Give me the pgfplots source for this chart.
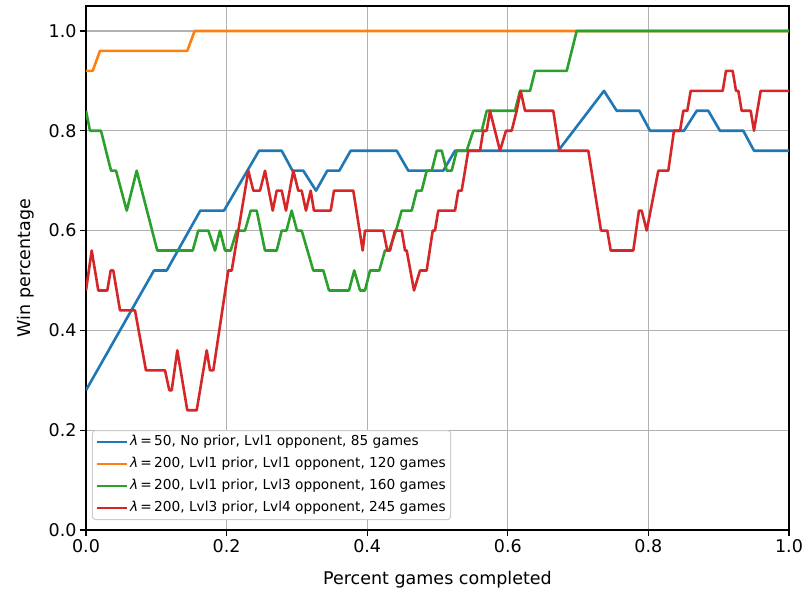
\documentclass[border=0pt]{standalone}
\usepackage{fontspec}
\setmainfont{DejaVu Sans}
\usepackage{pgfplots}
\pgfplotsset{compat=1.18}
\definecolor{tabblue}{HTML}{1F77B4}
\definecolor{taborange}{HTML}{FF7F0E}
\definecolor{tabgreen}{HTML}{2CA02C}
\definecolor{tabred}{HTML}{D62728}
\begin{document}
\begin{tikzpicture}
\path[use as bounding box] (-86pt,-65pt) rectangle (722pt,530pt);
\begin{axis}[
  at={(0,0)}, anchor=south west,
  width=703pt, height=524pt, scale only axis,
  xmin=0, xmax=1, ymin=0, ymax=1.05,
  xtick={0,0.2,0.4,0.6,0.8,1}, ytick={0,0.2,0.4,0.6,0.8,1},
  grid=major, major grid style={color=black!30, line width=1.3pt},
  axis line style={line width=1.3pt},
  tick style={black, line width=1.3pt}, major tick length=6pt, tick align=outside,
  xtick pos=lower, ytick pos=left,
  ticklabel style={font=\fontsize{17.5}{20}\selectfont},
  xticklabel style={/pgf/number format/fixed, /pgf/number format/fixed zerofill, /pgf/number format/precision=1, /pgf/number format/assume math mode=true},
  yticklabel style={/pgf/number format/fixed, /pgf/number format/fixed zerofill, /pgf/number format/precision=1, /pgf/number format/assume math mode=true},
  xlabel={Percent games completed}, ylabel={Win percentage},
  label style={font=\fontsize{17.5}{20}\selectfont},
  xlabel style={at={(axis description cs:0.5,0)}, anchor=base, yshift=-54pt},
  ylabel style={at={(axis description cs:0,0.5)}, anchor=base, yshift=55pt},
  legend style={at={(rel axis cs:0.0085,0.019)}, anchor=south west,
    font=\fontsize{13.7}{16}\selectfont, draw=black!20, line width=1pt,
    rounded corners=3pt, fill=white, inner xsep=3pt, inner ysep=3pt,
    row sep=5pt, cells={anchor=west},
    nodes={inner sep=2pt, text height=10pt, text depth=3pt}},
  legend image code/.code={\draw[#1, line width=2.6pt] (0pt,0pt) -- (30pt,0pt);},
  every axis plot/.append style={line width=2.6pt, line join=round},
]
\addplot[tabblue] coordinates {
(0,0.28) (0.0967,0.52) (0.1148,0.52) (0.1626,0.64) (0.1963,0.64) (0.2461,0.76)
(0.2784,0.76) (0.2937,0.72) (0.3091,0.72) (0.3272,0.68) (0.3432,0.72) (0.3603,0.72)
(0.3765,0.76) (0.4420,0.76) (0.4585,0.72) (0.5082,0.72) (0.5249,0.76) (0.6718,0.76)
(0.7368,0.88) (0.7549,0.84) (0.7871,0.84) (0.8023,0.80) (0.8506,0.80) (0.8687,0.84)
(0.8852,0.84) (0.9018,0.80) (0.9350,0.80) (0.9502,0.76) (1,0.76)};
\addlegendentry{\textit{λ}\,=\,50, No prior, Lvl1 opponent, 85 games}
\addplot[taborange] coordinates {
(0,0.92) (0.0095,0.92) (0.0199,0.96) (0.1441,0.96) (0.1545,1.0) (1,1.0)};
\addlegendentry{\textit{λ}\,=\,200, Lvl1 prior, Lvl1 opponent, 120 games}
\addplot[tabgreen] coordinates {
(0,0.84) (0.0057,0.80) (0.0213,0.80) (0.0356,0.72) (0.0427,0.72) (0.0579,0.64)
(0.0721,0.72) (0.1014,0.56) (0.1518,0.56) (0.1597,0.60) (0.1740,0.60) (0.1835,0.56)
(0.1906,0.60) (0.1977,0.56) (0.2058,0.56) (0.2144,0.60) (0.2262,0.60) (0.2343,0.64)
(0.2428,0.64) (0.2546,0.56) (0.2713,0.56) (0.2784,0.60) (0.2852,0.60) (0.2926,0.64)
(0.3001,0.60) (0.3068,0.60) (0.3233,0.52) (0.3376,0.52) (0.3457,0.48) (0.3741,0.48)
(0.3816,0.52) (0.3898,0.48) (0.3969,0.48) (0.4040,0.52) (0.4172,0.52) (0.4253,0.56)
(0.4310,0.56) (0.4410,0.60) (0.4491,0.64) (0.4633,0.64) (0.4704,0.68) (0.4775,0.68)
(0.4846,0.72) (0.4918,0.72) (0.4989,0.76) (0.5060,0.76) (0.5131,0.72) (0.5202,0.72)
(0.5273,0.76) (0.5415,0.76) (0.5509,0.80) (0.5629,0.80) (0.5700,0.84) (0.6102,0.84)
(0.6174,0.88) (0.6316,0.88) (0.6387,0.92) (0.6838,0.92) (0.6980,1.0) (1,1.0)};
\addlegendentry{\textit{λ}\,=\,200, Lvl1 prior, Lvl3 opponent, 160 games}
\addplot[tabred] coordinates {
(0,0.48) (0.0081,0.56) (0.0175,0.48) (0.0303,0.48) (0.0351,0.52) (0.0388,0.52)
(0.0484,0.44) (0.0697,0.44) (0.0853,0.32) (0.1124,0.32) (0.1185,0.28) (0.1219,0.28)
(0.1299,0.36) (0.1441,0.24) (0.1575,0.24) (0.1717,0.36) (0.1764,0.32) (0.1811,0.32)
(0.2024,0.52) (0.2073,0.52) (0.2309,0.72) (0.2380,0.68) (0.2475,0.68) (0.2546,0.72)
(0.2656,0.64) (0.2713,0.68) (0.2784,0.68) (0.2845,0.64) (0.2949,0.72) (0.3020,0.68)
(0.3068,0.68) (0.3129,0.64) (0.3196,0.68) (0.3243,0.64) (0.3481,0.64) (0.3528,0.68)
(0.3802,0.68) (0.3936,0.56) (0.3969,0.60) (0.4229,0.60) (0.4286,0.56) (0.4324,0.56)
(0.4395,0.60) (0.4491,0.60) (0.4538,0.56) (0.4562,0.56) (0.4666,0.48) (0.4751,0.52)
(0.4846,0.52) (0.4932,0.60) (0.4964,0.60) (0.5011,0.64) (0.5249,0.64) (0.5296,0.68)
(0.5344,0.68) (0.5438,0.76) (0.5605,0.76) (0.5651,0.80) (0.5700,0.80) (0.5747,0.84)
(0.5889,0.76) (0.5974,0.80) (0.6055,0.80) (0.6126,0.84) (0.6183,0.88) (0.6245,0.84)
(0.6647,0.84) (0.6733,0.76) (0.7145,0.76) (0.7326,0.60) (0.7415,0.60) (0.7464,0.56)
(0.7785,0.56) (0.7866,0.64) (0.7904,0.64) (0.7976,0.60) (0.8141,0.72) (0.8283,0.72)
(0.8364,0.80) (0.8450,0.80) (0.8497,0.84) (0.8553,0.84) (0.8602,0.88) (0.9057,0.88)
(0.9104,0.92) (0.9199,0.92) (0.9246,0.88) (0.9279,0.88) (0.9327,0.84) (0.9455,0.84)
(0.9502,0.80) (0.9597,0.88) (1,0.88)};
\addlegendentry{\textit{λ}\,=\,200, Lvl3 prior, Lvl4 opponent, 245 games}
\end{axis}
\end{tikzpicture}
\end{document}
